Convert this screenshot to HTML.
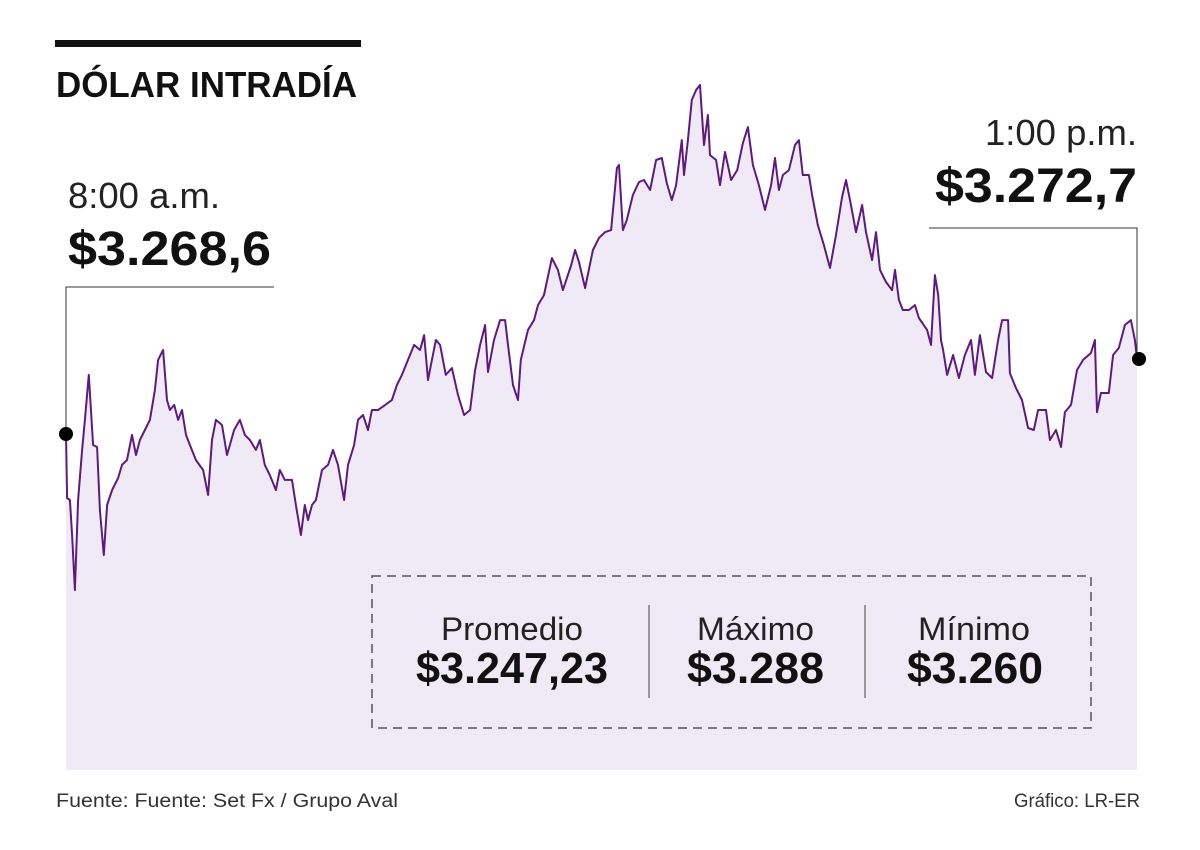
<!DOCTYPE html>
<html><head><meta charset="utf-8"><style>
html,body{margin:0;padding:0;background:#fff;}
svg{display:block;font-family:"Liberation Sans",sans-serif;}
</style></head><body>
<svg id="chart" width="1200" height="850" viewBox="0 0 1200 850">
<rect x="0" y="0" width="1200" height="850" fill="#fff"/>
<rect x="55" y="40" width="306" height="7" fill="#111"/>
<text x="56" y="97" font-size="36" font-weight="bold" fill="#111" textLength="301" lengthAdjust="spacingAndGlyphs">DÓLAR INTRADÍA</text>
<path id="area" fill="#f0eaf6"/>
<path id="line" fill="none" stroke="#5e1a7e" stroke-width="2" stroke-linejoin="round"/>
<g>
<text x="68" y="208" font-size="36" fill="#222" textLength="152" lengthAdjust="spacingAndGlyphs">8:00 a.m.</text>
<text x="68" y="265" font-size="48" font-weight="bold" fill="#111" textLength="203" lengthAdjust="spacingAndGlyphs">$3.268,6</text>
<path id="openLeader" fill="none" stroke="#333" stroke-width="1"/>
<circle id="openDot" r="7" fill="#000"/>
</g>
<g>
<text x="1137" y="145" font-size="36" fill="#222" text-anchor="end" textLength="152" lengthAdjust="spacingAndGlyphs">1:00 p.m.</text>
<text x="1137" y="202" font-size="48" font-weight="bold" fill="#111" text-anchor="end" textLength="202" lengthAdjust="spacingAndGlyphs">$3.272,7</text>
<path id="closeLeader" fill="none" stroke="#333" stroke-width="1"/>
<circle id="closeDot" r="7" fill="#000"/>
</g>
<g>
<rect x="372" y="576" width="719" height="152" fill="none" stroke="#555" stroke-width="1.5" stroke-dasharray="9,6"/>
<line x1="649" y1="605" x2="649" y2="698" stroke="#444" stroke-width="1"/>
<line x1="865" y1="605" x2="865" y2="698" stroke="#444" stroke-width="1"/>
<text x="441" y="640" font-size="32" fill="#222" textLength="142" lengthAdjust="spacingAndGlyphs">Promedio</text>
<text x="416" y="683" font-size="44" font-weight="bold" fill="#111" textLength="192" lengthAdjust="spacingAndGlyphs">$3.247,23</text>
<text x="697" y="640" font-size="32" fill="#222" textLength="117" lengthAdjust="spacingAndGlyphs">Máximo</text>
<text x="687" y="683" font-size="44" font-weight="bold" fill="#111" textLength="137" lengthAdjust="spacingAndGlyphs">$3.288</text>
<text x="918" y="640" font-size="32" fill="#222" textLength="112" lengthAdjust="spacingAndGlyphs">Mínimo</text>
<text x="907" y="683" font-size="44" font-weight="bold" fill="#111" textLength="136" lengthAdjust="spacingAndGlyphs">$3.260</text>
</g>
<text x="56" y="807" font-size="19" fill="#333" textLength="342" lengthAdjust="spacingAndGlyphs">Fuente: Fuente: Set Fx / Grupo Aval</text>
<text x="1140" y="807" font-size="19" fill="#333" text-anchor="end" textLength="126" lengthAdjust="spacingAndGlyphs">Gráfico: LR-ER</text>
</svg>
<script>
const minutes = [0,0.3,1.1,1.7,2.5,3.4,4.5,5.3,6.4,7.6,8.7,9.5,10.6,11.5,12.9,14.6,15.7,17.1,18.5,19.6,20.7,22.1,23.5,24.9,25.8,27.2,28.3,29.1,30.3,31.4,32.5,33.6,34.7,36.4,38.4,39.8,40.9,42.0,43.7,45.1,47.1,48.7,50.1,51.5,53.2,54.3,55.7,57.1,58.8,59.9,61.3,63.3,64.4,65.8,66.9,67.8,68.9,70.0,71.7,73.4,74.8,76.2,77.9,79.0,80.7,81.8,83.2,84.6,85.7,87.4,89.4,91.3,92.7,94.1,95.8,97.5,99.2,100.3,101.4,102.5,103.6,104.8,106.4,108.1,109.8,111.5,113.2,114.6,116.0,117.4,118.2,119.9,121.6,123.0,123.8,125.2,126.6,127.4,129.4,131.1,132.2,133.9,136.1,137.8,139.2,141.5,142.6,143.7,145.4,147.6,149.3,151.0,152.7,154.3,154.9,156.0,157.1,158.8,160.5,161.9,163.6,165.3,166.9,168.3,169.7,170.9,172.5,173.1,174.2,175.3,176.5,177.6,178.7,179.8,180.4,182.1,183.2,184.6,186.3,188.0,189.6,191.0,192.4,194.1,195.8,197.5,198.6,199.7,200.8,202.5,204.2,205.3,206.4,208.1,209.0,210.6,212.3,214.0,215.7,217.4,218.5,219.6,221.3,223.0,224.1,225.8,226.9,228.0,229.7,231.4,232.2,233.3,234.4,236.1,237.8,238.9,241.2,242.3,243.4,244.3,245.1,245.7,246.8,248.5,250.1,251.8,253.5,254.6,256.0,257.7,259.4,261.1,262.2,263.9,264.4,266.1,267.8,269.5,271.1,272.3,274.5,275.6,277.3,278.7,279.8,281.5,283.2,284.9,287.1,288.2,288.8,289.9,292.1,293.3,294.9,296.6,298.3,299.4,300];
const prices = [3268.60,3265.10,3264.99,3263.08,3260.07,3264.99,3267.73,3269.37,3271.83,3268.00,3267.89,3264.45,3261.98,3264.72,3265.54,3266.19,3266.91,3267.18,3268.55,3267.45,3268.27,3268.82,3269.37,3271.01,3272.65,3273.19,3270.46,3269.91,3270.19,3269.37,3269.91,3268.55,3268.00,3267.18,3266.63,3265.27,3268.27,3269.37,3269.09,3267.45,3268.82,3269.37,3268.55,3268.27,3267.73,3268.27,3266.91,3266.36,3265.54,3266.63,3266.09,3266.09,3264.72,3263.08,3264.72,3263.90,3264.72,3264.99,3266.63,3266.91,3267.73,3266.91,3264.99,3266.91,3268.00,3269.37,3269.64,3268.82,3269.91,3269.91,3270.19,3270.46,3271.28,3271.83,3272.65,3273.47,3273.19,3274.01,3271.55,3272.65,3273.74,3273.47,3271.83,3272.21,3270.73,3269.64,3269.91,3272.10,3273.47,3274.56,3271.99,3273.74,3274.83,3274.83,3273.47,3271.28,3270.46,3272.65,3274.29,3274.83,3275.65,3276.20,3278.22,3277.57,3276.47,3277.84,3278.66,3278.00,3276.58,3278.66,3279.32,3279.64,3279.75,3283.14,3283.31,3279.75,3280.30,3281.67,3282.38,3282.49,3281.94,3283.58,3283.69,3282.32,3281.39,3282.21,3284.67,3282.76,3284.67,3286.86,3287.41,3287.68,3284.40,3286.04,3283.85,3283.58,3282.21,3284.02,3282.49,3283.03,3284.51,3285.38,3283.31,3282.21,3280.85,3282.21,3283.69,3281.94,3282.76,3283.03,3284.40,3284.67,3282.76,3282.76,3281.67,3280.03,3278.93,3277.68,3279.48,3281.56,3282.49,3281.39,3279.64,3281.12,3279.64,3278.11,3279.64,3277.57,3276.91,3276.47,3277.57,3275.93,3275.38,3275.38,3275.65,3274.94,3274.29,3273.47,3277.29,3276.20,3273.74,3273.19,3271.83,3272.92,3271.66,3272.92,3273.74,3271.83,3274.01,3271.99,3271.66,3273.74,3274.83,3274.83,3271.93,3271.11,3270.46,3268.93,3268.82,3269.91,3269.91,3268.27,3268.82,3267.89,3269.80,3270.19,3272.10,3272.65,3273.03,3273.74,3269.80,3270.84,3270.84,3272.92,3273.30,3274.56,3274.83,3273.74,3272.70];
const xDomain = [0, 300];
const yRef = 3268.6;

const X0 = 66, X1 = 1137, Y_REF = 434, PX_PER_UNIT = 18.29, BASE = 770;
function xScale(m){ return X0 + (m - xDomain[0]) / (xDomain[1] - xDomain[0]) * (X1 - X0); }
function yScale(p){ return Y_REF - (p - yRef) * PX_PER_UNIT; }

let d = '';
for (let i = 0; i < prices.length; i++) {
  d += (i ? 'L' : 'M') + xScale(minutes[i]).toFixed(1) + ',' + yScale(prices[i]).toFixed(1);
}
document.getElementById('line').setAttribute('d', d);
const n = prices.length - 1;
document.getElementById('area').setAttribute('d', d + 'L' + xScale(minutes[n]).toFixed(1) + ',' + BASE + 'L' + xScale(minutes[0]).toFixed(1) + ',' + BASE + 'Z');

const ox = xScale(minutes[0]), oy = yScale(prices[0]);
const cx = xScale(minutes[n]), cy = yScale(prices[n]);
const od = document.getElementById('openDot'); od.setAttribute('cx', ox); od.setAttribute('cy', oy);
const cd = document.getElementById('closeDot'); cd.setAttribute('cx', cx + 2); cd.setAttribute('cy', cy);
document.getElementById('openLeader').setAttribute('d', 'M' + ox + ',' + oy + 'V287H274');
document.getElementById('closeLeader').setAttribute('d', 'M929,228H' + cx + 'V' + cy);
</script>
</body></html>
